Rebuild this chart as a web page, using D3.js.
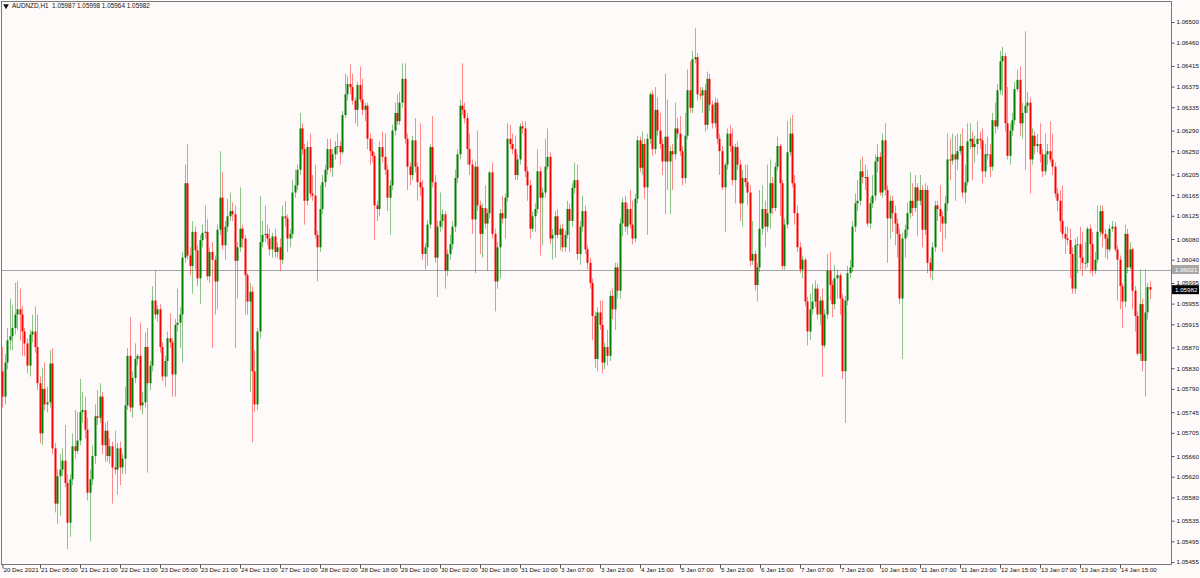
<!DOCTYPE html>
<html>
<head>
<meta charset="utf-8">
<script src="https://cdn.jsdelivr.net/npm/d3@7/dist/d3.min.js"></script>
<style>
html, body { margin: 0; padding: 0; background: #fffafa; overflow: hidden; }
svg { display: block; }
text { font-family: "Liberation Sans", Arial, sans-serif; }
</style>
</head>
<body>
<svg id="chart" width="1200" height="578"></svg>
<script>
const symbolTitle = "AUDNZD,H1";

const opens = [
1.05824,1.05775,1.05841,1.05884,1.05892,1.05908,1.05934,1.05944,1.05934,1.05901,
1.05878,1.05835,1.05895,1.05901,1.05871,1.05801,1.05704,1.05790,1.05760,1.05764,
1.05839,1.05675,1.05568,1.05621,1.05634,1.05651,1.05608,1.05531,1.05615,1.05679,
1.05670,1.05690,1.05745,1.05749,1.05711,1.05589,1.05615,1.05660,1.05737,1.05734,
1.05775,1.05681,1.05709,1.05660,1.05679,1.05638,1.05634,1.05675,1.05638,1.05655,
1.05758,1.05854,1.05754,1.05811,1.05848,1.05854,1.05758,1.05764,1.05871,1.05801,
1.05835,1.05961,1.05934,1.05944,1.05871,1.05814,1.05844,1.05888,1.05880,1.05818,
1.05914,1.05918,1.05934,1.06044,1.06188,1.06048,1.06028,1.06094,1.06058,1.06004,
1.06078,1.06092,1.06094,1.06008,1.06055,1.06040,1.05998,1.06098,1.06160,1.06068,
1.06104,1.06124,1.06134,1.06128,1.06038,1.06064,1.06100,1.06081,1.06010,1.05959,
1.05978,1.05824,1.05760,1.05901,1.06074,1.06088,1.06090,1.06081,1.06060,1.06085,
1.06055,1.06064,1.06040,1.06124,1.06120,1.06081,1.06090,1.06170,1.06184,1.06214,
1.06294,1.06254,1.06154,1.06258,1.06168,1.06164,1.06088,1.06064,1.06138,1.06190,
1.06214,1.06254,1.06218,1.06244,1.06258,1.06260,1.06248,1.06320,1.06360,1.06380,
1.06374,1.06348,1.06330,1.06378,1.06350,1.06330,1.06338,1.06274,1.06250,1.06241,
1.06145,1.06138,1.06258,1.06239,1.06214,1.06160,1.06184,1.06290,1.06324,1.06308,
1.06344,1.06390,1.06274,1.06220,1.06204,1.06271,1.06220,1.06190,1.06180,1.06051,
1.06064,1.06108,1.06258,1.06190,1.06044,1.06104,1.06115,1.06128,1.06019,1.06051,
1.06070,1.06104,1.06198,1.06244,1.06338,1.06330,1.06314,1.06254,1.06224,1.06118,
1.06220,1.06145,1.06090,1.06140,1.06110,1.06130,1.06209,1.06090,1.05998,1.06064,
1.06130,1.06120,1.06160,1.06274,1.06264,1.06254,1.06204,1.06234,1.06298,1.06294,
1.06211,1.06184,1.06100,1.06124,1.06138,1.06211,1.06160,1.06170,1.06220,1.06239,
1.06081,1.06088,1.06124,1.06088,1.06100,1.06064,1.06088,1.06138,1.06115,1.06179,
1.06194,1.06051,1.06104,1.06134,1.06060,1.06034,1.05995,1.05931,1.05848,1.05938,
1.05914,1.05841,1.05871,1.05854,1.05970,1.05944,1.06025,1.05980,1.06110,1.06151,
1.06104,1.06138,1.06108,1.06081,1.06158,1.06271,1.06218,1.06264,1.06180,1.06274,
1.06360,1.06254,1.06330,1.06290,1.06264,1.06230,1.06278,1.06230,1.06250,1.06244,
1.06294,1.06284,1.06250,1.06198,1.06280,1.06368,1.06334,1.06428,1.06432,1.06360,
1.06358,1.06368,1.06301,1.06390,1.06340,1.06304,1.06344,1.06274,1.06250,1.06180,
1.06224,1.06284,1.06260,1.06194,1.06258,1.06224,1.06149,1.06198,1.06190,1.06170,
1.06038,1.06051,1.05991,1.06025,1.06100,1.06138,1.06104,1.06130,1.06188,1.06140,
1.06220,1.06260,1.06188,1.06028,1.06108,1.06248,1.06284,1.06188,1.06130,1.06064,
1.06021,1.06040,1.05959,1.05901,1.05944,1.05959,1.05984,1.05934,1.05961,1.05874,
1.05934,1.06019,1.05991,1.05954,1.06004,1.06010,1.05965,1.05824,1.05961,1.06014,
1.06025,1.06104,1.06149,1.06154,1.06211,1.06200,1.06200,1.06110,1.06149,1.06164,
1.06230,1.06239,1.06170,1.06271,1.06175,1.06120,1.06154,1.06130,1.06110,1.06090,
1.05965,1.06081,1.06098,1.06130,1.06154,1.06140,1.06180,1.06154,1.06175,1.06098,
1.06175,1.06034,1.06019,1.06064,1.06145,1.06138,1.06124,1.06110,1.06149,1.06234,
1.06232,1.06244,1.06234,1.06250,1.06260,1.06170,1.06190,1.06269,1.06274,1.06258,
1.06264,1.06274,1.06271,1.06211,1.06244,1.06244,1.06220,1.06310,1.06298,1.06368,
1.06424,1.06434,1.06304,1.06241,1.06290,1.06310,1.06370,1.06388,1.06304,1.06324,
1.06338,1.06344,1.06234,1.06280,1.06260,1.06264,1.06244,1.06211,1.06244,1.06250,
1.06234,1.06220,1.06168,1.06154,1.06115,1.06090,1.06081,1.06078,1.06051,1.05984,
1.06068,1.06070,1.06044,1.06034,1.06034,1.06100,1.06070,1.06019,1.06040,1.06094,
1.06134,1.06090,1.06081,1.06060,1.06100,1.06104,1.06060,1.06040,1.05989,1.05959,
1.06090,1.06025,1.06060,1.05980,1.05931,1.05858,1.05954,1.05844,1.05938,1.05987
];

const highs = [
1.05871,1.05858,1.05908,1.05965,1.05952,1.05995,1.05998,1.05984,1.05950,1.05908,
1.05888,1.05904,1.05934,1.05950,1.05934,1.05814,1.05831,1.05841,1.05794,1.05865,
1.05869,1.05685,1.05634,1.05664,1.05675,1.05720,1.05625,1.05625,1.05704,1.05749,
1.05745,1.05809,1.05784,1.05775,1.05734,1.05634,1.05681,1.05760,1.05788,1.05801,
1.05784,1.05724,1.05728,1.05694,1.05688,1.05709,1.05685,1.05688,1.05664,1.05794,
1.05869,1.05929,1.05824,1.05878,1.05858,1.05918,1.05784,1.05899,1.05908,1.05844,
1.05989,1.06019,1.05952,1.05954,1.05880,1.05854,1.05901,1.05936,1.05888,1.05925,
1.05984,1.05948,1.06055,1.06224,1.06264,1.06064,1.06115,1.06104,1.06068,1.06088,
1.06108,1.06145,1.06118,1.06064,1.06074,1.06048,1.06108,1.06250,1.06209,1.06115,
1.06158,1.06170,1.06151,1.06145,1.06074,1.06180,1.06108,1.06088,1.06014,1.05995,
1.05989,1.05865,1.05908,1.06164,1.06115,1.06145,1.06108,1.06100,1.06092,1.06100,
1.06074,1.06081,1.06145,1.06154,1.06128,1.06100,1.06194,1.06214,1.06224,1.06324,
1.06304,1.06264,1.06269,1.06284,1.06204,1.06224,1.06096,1.06184,1.06204,1.06224,
1.06274,1.06274,1.06254,1.06269,1.06284,1.06269,1.06328,1.06400,1.06395,1.06418,
1.06400,1.06354,1.06384,1.06414,1.06390,1.06344,1.06344,1.06284,1.06274,1.06248,
1.06154,1.06269,1.06288,1.06284,1.06224,1.06194,1.06301,1.06344,1.06360,1.06365,
1.06420,1.06420,1.06284,1.06228,1.06280,1.06314,1.06228,1.06304,1.06194,1.06072,
1.06117,1.06264,1.06318,1.06204,1.06115,1.06170,1.06138,1.06134,1.06060,1.06088,
1.06115,1.06214,1.06254,1.06350,1.06420,1.06344,1.06324,1.06284,1.06234,1.06230,
1.06290,1.06154,1.06149,1.06184,1.06138,1.06211,1.06228,1.06100,1.06074,1.06138,
1.06164,1.06168,1.06304,1.06301,1.06284,1.06280,1.06244,1.06304,1.06308,1.06308,
1.06220,1.06194,1.06134,1.06149,1.06254,1.06220,1.06180,1.06274,1.06294,1.06248,
1.06100,1.06134,1.06138,1.06108,1.06110,1.06096,1.06154,1.06149,1.06188,1.06228,
1.06224,1.06115,1.06164,1.06145,1.06068,1.06044,1.06004,1.05940,1.05948,1.05961,
1.05961,1.05880,1.05904,1.05980,1.05984,1.06034,1.06034,1.06120,1.06160,1.06164,
1.06149,1.06175,1.06154,1.06168,1.06280,1.06278,1.06288,1.06274,1.06284,1.06365,
1.06368,1.06374,1.06354,1.06324,1.06274,1.06400,1.06350,1.06260,1.06264,1.06344,
1.06314,1.06318,1.06260,1.06324,1.06408,1.06424,1.06444,1.06488,1.06440,1.06374,
1.06374,1.06380,1.06404,1.06400,1.06348,1.06354,1.06352,1.06284,1.06260,1.06228,
1.06294,1.06301,1.06294,1.06264,1.06269,1.06234,1.06214,1.06224,1.06224,1.06184,
1.06115,1.06058,1.06034,1.06175,1.06184,1.06154,1.06224,1.06234,1.06200,1.06228,
1.06278,1.06264,1.06194,1.06120,1.06308,1.06314,1.06320,1.06204,1.06145,1.06074,
1.06048,1.06044,1.05968,1.05974,1.05993,1.06000,1.05993,1.05968,1.05984,1.05944,
1.06051,1.06055,1.06000,1.06030,1.06021,1.06014,1.05974,1.05970,1.06028,1.06040,
1.06115,1.06168,1.06194,1.06234,1.06239,1.06224,1.06214,1.06160,1.06204,1.06244,
1.06264,1.06248,1.06284,1.06304,1.06184,1.06164,1.06164,1.06145,1.06120,1.06100,
1.06092,1.06108,1.06151,1.06209,1.06188,1.06204,1.06188,1.06204,1.06184,1.06188,
1.06184,1.06044,1.06074,1.06154,1.06154,1.06184,1.06134,1.06164,1.06284,1.06274,
1.06284,1.06280,1.06284,1.06284,1.06294,1.06224,1.06304,1.06304,1.06288,1.06280,
1.06308,1.06288,1.06294,1.06264,1.06278,1.06264,1.06324,1.06344,1.06380,1.06444,
1.06452,1.06440,1.06374,1.06304,1.06324,1.06384,1.06408,1.06414,1.06344,1.06482,
1.06365,1.06354,1.06294,1.06288,1.06284,1.06304,1.06254,1.06284,1.06264,1.06308,
1.06284,1.06228,1.06179,1.06175,1.06184,1.06104,1.06104,1.06100,1.06064,1.06081,
1.06085,1.06104,1.06094,1.06074,1.06104,1.06108,1.06094,1.06055,1.06145,1.06145,
1.06145,1.06100,1.06088,1.06108,1.06115,1.06113,1.06068,1.06048,1.05995,1.06108,
1.06100,1.06074,1.06064,1.05989,1.05940,1.06021,1.05965,1.06021,1.05995,1.05998
];

const lows = [
1.05754,1.05760,1.05828,1.05865,1.05865,1.05895,1.05904,1.05884,1.05854,1.05854,
1.05820,1.05814,1.05880,1.05860,1.05788,1.05685,1.05681,1.05749,1.05745,1.05754,
1.05664,1.05551,1.05529,1.05544,1.05621,1.05600,1.05480,1.05504,1.05604,1.05655,
1.05664,1.05681,1.05724,1.05694,1.05574,1.05495,1.05604,1.05645,1.05720,1.05724,
1.05664,1.05649,1.05649,1.05645,1.05568,1.05625,1.05585,1.05604,1.05625,1.05625,
1.05749,1.05745,1.05734,1.05801,1.05835,1.05749,1.05741,1.05754,1.05628,1.05788,
1.05824,1.05925,1.05920,1.05860,1.05805,1.05794,1.05814,1.05869,1.05775,1.05775,
1.05901,1.05869,1.05841,1.06034,1.06040,1.06010,1.05974,1.06021,1.05989,1.05954,
1.06064,1.06081,1.06000,1.05995,1.05869,1.05934,1.05944,1.06088,1.06060,1.06040,
1.06094,1.06115,1.06115,1.05869,1.05965,1.06055,1.06064,1.05934,1.05934,1.05784,
1.05687,1.05745,1.05749,1.05888,1.06064,1.06074,1.06068,1.06048,1.06044,1.06044,
1.06044,1.06019,1.06032,1.06104,1.06055,1.06064,1.06081,1.06160,1.06175,1.06204,
1.06244,1.06108,1.06145,1.06160,1.06154,1.06081,1.05998,1.06055,1.06128,1.06180,
1.06204,1.06209,1.06200,1.06234,1.06244,1.06224,1.06244,1.06314,1.06348,1.06360,
1.06340,1.06304,1.06298,1.06344,1.06320,1.06308,1.06254,1.06224,1.06228,1.06078,
1.06115,1.06124,1.06228,1.06204,1.06134,1.06088,1.06175,1.06280,1.06301,1.06301,
1.06334,1.06264,1.06175,1.06184,1.06194,1.06209,1.06154,1.06164,1.06040,1.06021,
1.06028,1.06100,1.06180,1.06034,1.05968,1.06094,1.06100,1.05984,1.06008,1.06040,
1.06060,1.06094,1.06188,1.06234,1.06320,1.06304,1.06224,1.06204,1.06090,1.06014,
1.06134,1.06051,1.06044,1.06100,1.06019,1.06120,1.06081,1.05940,1.05984,1.06004,
1.06110,1.06081,1.06152,1.06254,1.06244,1.06194,1.06194,1.06224,1.06284,1.06200,
1.06154,1.06081,1.06094,1.06094,1.06130,1.06048,1.06068,1.06160,1.06214,1.06070,
1.06040,1.06044,1.06081,1.06058,1.06055,1.06055,1.06081,1.06055,1.06104,1.06168,
1.06040,1.06030,1.06094,1.06051,1.06021,1.05984,1.05884,1.05831,1.05824,1.05904,
1.05820,1.05828,1.05835,1.05844,1.05925,1.05904,1.05965,1.05965,1.06085,1.06094,
1.06088,1.06100,1.06070,1.06074,1.06149,1.06209,1.06204,1.06158,1.06088,1.06264,
1.06241,1.06244,1.06280,1.06254,1.06204,1.06128,1.06175,1.06128,1.06175,1.06234,
1.06274,1.06241,1.06184,1.06188,1.06273,1.06324,1.06324,1.06420,1.06348,1.06350,
1.06324,1.06288,1.06292,1.06328,1.06294,1.06296,1.06264,1.06204,1.06175,1.06094,
1.06214,1.06248,1.06184,1.06149,1.06214,1.06115,1.06104,1.06180,1.06145,1.06028,
1.06030,1.05980,1.05959,1.06016,1.06088,1.06064,1.06094,1.06100,1.06128,1.06134,
1.06212,1.06124,1.06021,1.06021,1.06100,1.06241,1.06180,1.06108,1.06055,1.06014,
1.06004,1.05950,1.05874,1.05884,1.05934,1.05948,1.05925,1.05914,1.05813,1.05869,
1.05925,1.05961,1.05929,1.05944,1.05965,1.05934,1.05809,1.05724,1.05952,1.06004,
1.06016,1.06094,1.06134,1.06145,1.06188,1.06175,1.06104,1.06100,1.06140,1.06154,
1.06209,1.06164,1.06160,1.06164,1.06034,1.06081,1.06094,1.06068,1.06044,1.05954,
1.05848,1.06044,1.06085,1.06120,1.06124,1.06132,1.06085,1.06145,1.06064,1.06088,
1.06014,1.06004,1.06000,1.06055,1.06115,1.06094,1.06055,1.06081,1.06134,1.06194,
1.06224,1.06154,1.06214,1.06244,1.06160,1.06149,1.06184,1.06254,1.06194,1.06228,
1.06244,1.06254,1.06188,1.06200,1.06234,1.06200,1.06212,1.06284,1.06292,1.06360,
1.06358,1.06288,1.06234,1.06224,1.06280,1.06301,1.06365,1.06280,1.06274,1.06214,
1.06324,1.06168,1.06224,1.06244,1.06248,1.06228,1.06200,1.06204,1.06224,1.06228,
1.06204,1.06160,1.06134,1.06094,1.06081,1.06051,1.06068,1.06004,1.05974,1.05974,
1.06014,1.06021,1.06008,1.06021,1.06025,1.06014,1.06008,1.06012,1.06034,1.06085,
1.06064,1.06044,1.06040,1.06055,1.06094,1.06055,1.05961,1.05944,1.05908,1.05948,
1.06014,1.06021,1.05944,1.05901,1.05854,1.05844,1.05824,1.05775,1.05924,1.05964
];

const closes = [
1.05775,1.05841,1.05884,1.05892,1.05908,1.05934,1.05944,1.05934,1.05901,1.05878,
1.05835,1.05895,1.05901,1.05871,1.05801,1.05704,1.05790,1.05760,1.05764,1.05839,
1.05675,1.05568,1.05621,1.05634,1.05651,1.05608,1.05531,1.05615,1.05679,1.05670,
1.05690,1.05745,1.05749,1.05711,1.05589,1.05615,1.05660,1.05737,1.05734,1.05775,
1.05681,1.05709,1.05660,1.05679,1.05638,1.05634,1.05675,1.05638,1.05655,1.05758,
1.05854,1.05754,1.05811,1.05848,1.05854,1.05758,1.05764,1.05871,1.05801,1.05835,
1.05961,1.05934,1.05944,1.05871,1.05814,1.05844,1.05888,1.05880,1.05818,1.05914,
1.05918,1.05934,1.06044,1.06188,1.06048,1.06028,1.06094,1.06058,1.06004,1.06078,
1.06092,1.06094,1.06008,1.06055,1.06040,1.05998,1.06098,1.06160,1.06068,1.06104,
1.06124,1.06134,1.06128,1.06038,1.06064,1.06100,1.06081,1.06010,1.05959,1.05978,
1.05824,1.05760,1.05901,1.06074,1.06088,1.06090,1.06081,1.06060,1.06085,1.06055,
1.06064,1.06040,1.06124,1.06120,1.06081,1.06090,1.06170,1.06184,1.06214,1.06294,
1.06254,1.06154,1.06258,1.06168,1.06164,1.06088,1.06064,1.06138,1.06190,1.06214,
1.06254,1.06218,1.06244,1.06258,1.06260,1.06248,1.06320,1.06360,1.06380,1.06374,
1.06348,1.06330,1.06378,1.06350,1.06330,1.06338,1.06274,1.06250,1.06241,1.06145,
1.06138,1.06258,1.06239,1.06214,1.06160,1.06184,1.06290,1.06324,1.06308,1.06344,
1.06390,1.06274,1.06220,1.06204,1.06271,1.06220,1.06190,1.06180,1.06051,1.06064,
1.06108,1.06258,1.06190,1.06044,1.06104,1.06115,1.06128,1.06019,1.06051,1.06070,
1.06104,1.06198,1.06244,1.06338,1.06330,1.06314,1.06254,1.06224,1.06118,1.06220,
1.06145,1.06090,1.06140,1.06110,1.06130,1.06209,1.06090,1.05998,1.06064,1.06130,
1.06120,1.06160,1.06274,1.06264,1.06254,1.06204,1.06234,1.06298,1.06294,1.06211,
1.06184,1.06100,1.06124,1.06138,1.06211,1.06160,1.06170,1.06220,1.06239,1.06081,
1.06088,1.06124,1.06088,1.06100,1.06064,1.06088,1.06138,1.06115,1.06179,1.06194,
1.06051,1.06104,1.06134,1.06060,1.06034,1.05995,1.05931,1.05848,1.05938,1.05914,
1.05841,1.05871,1.05854,1.05970,1.05944,1.06025,1.05980,1.06110,1.06151,1.06104,
1.06138,1.06108,1.06081,1.06158,1.06271,1.06218,1.06264,1.06180,1.06274,1.06360,
1.06254,1.06330,1.06290,1.06264,1.06230,1.06278,1.06230,1.06250,1.06244,1.06294,
1.06284,1.06250,1.06198,1.06280,1.06368,1.06334,1.06428,1.06432,1.06360,1.06358,
1.06368,1.06301,1.06390,1.06340,1.06304,1.06344,1.06274,1.06250,1.06180,1.06224,
1.06284,1.06260,1.06194,1.06258,1.06224,1.06149,1.06198,1.06190,1.06170,1.06038,
1.06051,1.05991,1.06025,1.06100,1.06138,1.06104,1.06130,1.06188,1.06140,1.06220,
1.06260,1.06188,1.06028,1.06108,1.06248,1.06284,1.06188,1.06130,1.06064,1.06021,
1.06040,1.05959,1.05901,1.05944,1.05959,1.05984,1.05934,1.05961,1.05874,1.05934,
1.06019,1.05991,1.05954,1.06004,1.06010,1.05965,1.05824,1.05961,1.06014,1.06025,
1.06104,1.06149,1.06154,1.06211,1.06200,1.06200,1.06110,1.06149,1.06164,1.06230,
1.06239,1.06170,1.06271,1.06175,1.06120,1.06154,1.06130,1.06110,1.06090,1.05965,
1.06081,1.06098,1.06130,1.06154,1.06140,1.06180,1.06154,1.06175,1.06098,1.06175,
1.06034,1.06019,1.06064,1.06145,1.06138,1.06124,1.06110,1.06149,1.06234,1.06232,
1.06244,1.06234,1.06250,1.06260,1.06170,1.06190,1.06269,1.06274,1.06258,1.06264,
1.06274,1.06271,1.06211,1.06244,1.06244,1.06220,1.06310,1.06298,1.06368,1.06424,
1.06434,1.06304,1.06241,1.06290,1.06310,1.06370,1.06388,1.06304,1.06324,1.06338,
1.06344,1.06234,1.06280,1.06260,1.06264,1.06244,1.06211,1.06244,1.06250,1.06234,
1.06220,1.06168,1.06154,1.06115,1.06090,1.06081,1.06078,1.06051,1.05984,1.06068,
1.06070,1.06044,1.06034,1.06034,1.06100,1.06070,1.06019,1.06040,1.06094,1.06134,
1.06090,1.06081,1.06060,1.06100,1.06104,1.06060,1.06040,1.05989,1.05959,1.06090,
1.06025,1.06060,1.05980,1.05931,1.05858,1.05954,1.05844,1.05938,1.05987,1.05982
];

const priceTicks = [1.06500,1.06460,1.06415,1.06375,1.06335,1.06290,1.06250,1.06205,1.06165,1.06125,
  1.06080,1.06040,1.05995,1.05955,1.05915,1.05870,1.05830,1.05790,1.05745,1.05705,
  1.05660,1.05620,1.05580,1.05535,1.05495,1.05455];

const timeTickBars = [0,15,31,47,63,79,95,111,127,143,159,175,191,207,223,239,255,271,287,303,319,335,351,367,383,399,415,431,447];
const timeTickLabels = ["20 Dec 2021","21 Dec 05:00","21 Dec 21:00","22 Dec 13:00","23 Dec 05:00","23 Dec 21:00",
  "24 Dec 13:00","27 Dec 10:00","28 Dec 02:00","28 Dec 18:00","29 Dec 10:00","30 Dec 02:00","30 Dec 18:00",
  "31 Dec 10:00","3 Jan 07:00","3 Jan 23:00","4 Jan 15:00","5 Jan 07:00","5 Jan 23:00","6 Jan 15:00",
  "7 Jan 07:00","7 Jan 23:00","10 Jan 15:00","11 Jan 07:00","11 Jan 23:00","12 Jan 15:00","13 Jan 07:00",
  "13 Jan 23:00","14 Jan 15:00"];

const levelPrice = 1.06021;
const bidPrice = 1.05982;

// ---------- drawing ----------
const W = 1200, H = 578;
const frame = { left: 1, top: 1, right: 1171, bottom: 564 };
const bullColor = "#008000", bearColor = "#ff0000";
const fmt = d3.format(".5f");

const svg = d3.select("#chart");
svg.append("rect").attr("width", W).attr("height", H).attr("fill", "#fffafa");

const x = d3.scaleLinear().domain([0, closes.length - 1]).range([2.5, 1150]);
const y = d3.scaleLinear().domain([1.05455, 1.06500]).range([562, 22]);

const candles = closes.map((c, i) => ({ i, o: opens[i], h: highs[i], l: lows[i], c }));

svg.append("defs").append("clipPath").attr("id", "plotClip")
  .append("rect").attr("x", frame.left + 1).attr("y", frame.top + 1)
  .attr("width", frame.right - frame.left - 1).attr("height", frame.bottom - frame.top - 1);

const plot = svg.append("g").attr("clip-path", "url(#plotClip)");

// horizontal level line
plot.append("line")
  .attr("x1", frame.left).attr("x2", frame.right)
  .attr("y1", Math.round(y(levelPrice)) + 0.5).attr("y2", Math.round(y(levelPrice)) + 0.5)
  .attr("stroke", "#a6a6a6").attr("stroke-width", 1);

const px = d => Math.floor(x(d.i));

// wicks
plot.selectAll("line.wick").data(candles).join("line")
  .attr("class", "wick")
  .attr("x1", d => px(d) + 0.5).attr("x2", d => px(d) + 0.5)
  .attr("y1", d => y(d.h)).attr("y2", d => y(d.l))
  .attr("stroke", d => d.c >= d.o ? bullColor : bearColor)
  .attr("stroke-opacity", 0.45)
  .attr("stroke-width", 1);

// bodies
plot.selectAll("rect.body").data(candles).join("rect")
  .attr("class", "body")
  .attr("x", d => px(d) - 0.5)
  .attr("width", 2)
  .attr("y", d => Math.min(y(d.o), y(d.c)))
  .attr("height", d => Math.max(1, Math.abs(y(d.o) - y(d.c))))
  .attr("fill", d => d.c >= d.o ? bullColor : bearColor);

// frame
svg.append("rect")
  .attr("x", frame.left + 0.5).attr("y", frame.top + 0.5)
  .attr("width", frame.right - frame.left).attr("height", frame.bottom - frame.top)
  .attr("fill", "none").attr("stroke", "#7a7a7a").attr("stroke-width", 1);

// right price axis
const yAxis = d3.axisRight(y).tickValues(priceTicks).tickFormat(fmt).tickSize(3).tickPadding(2);
const yg = svg.append("g").attr("transform", `translate(${frame.right + 0.5},0)`).call(yAxis);
yg.select(".domain").remove();
yg.selectAll(".tick line").attr("stroke", "#555");
yg.selectAll(".tick text").attr("font-size", 6.2).attr("fill", "#111").attr("font-family", "Liberation Sans, Arial, sans-serif");

// price boxes on axis
function priceBox(price, fill, textFill) {
  const cy = y(price);
  const g = svg.append("g");
  g.append("rect").attr("x", frame.right + 1).attr("y", cy - 4.5).attr("width", 27).attr("height", 9).attr("fill", fill);
  g.append("text").attr("x", frame.right + 4).attr("y", cy).attr("dy", "0.35em")
    .attr("font-size", 6.2).attr("fill", textFill).text(fmt(price));
}
priceBox(levelPrice, "#a6a6a6", "#ffffff");
priceBox(bidPrice, "#000000", "#ffffff");

// bottom time axis
const xAxis = d3.axisBottom(x).tickValues(timeTickBars).tickFormat((d, k) => timeTickLabels[k]).tickSize(4).tickSizeOuter(0);
const xg = svg.append("g").attr("transform", `translate(0,${frame.bottom + 0.5})`).call(xAxis);
xg.select(".domain").remove();
xg.selectAll(".tick line").attr("stroke", "#555");
xg.selectAll(".tick text")
  .attr("text-anchor", "start").attr("x", 0.5).attr("y", 3).attr("dy", "0.71em")
  .attr("font-size", 6.2).attr("fill", "#111").attr("font-family", "Liberation Sans, Arial, sans-serif");

// header
const last = candles[candles.length - 1];
svg.append("path").attr("d", d3.symbol(d3.symbolTriangle, 14)()).attr("transform", "translate(6,6) rotate(180)").attr("fill", "#111");
svg.append("text").attr("x", 12).attr("y", 6).attr("dy", "0.35em").attr("font-size", 6.4).attr("fill", "#111")
  .attr("xml:space", "preserve")
  .text(`${symbolTitle}  ${fmt(last.o)} ${fmt(last.h)} ${fmt(last.l)} ${fmt(last.c)}`);
</script>
</body>
</html>
